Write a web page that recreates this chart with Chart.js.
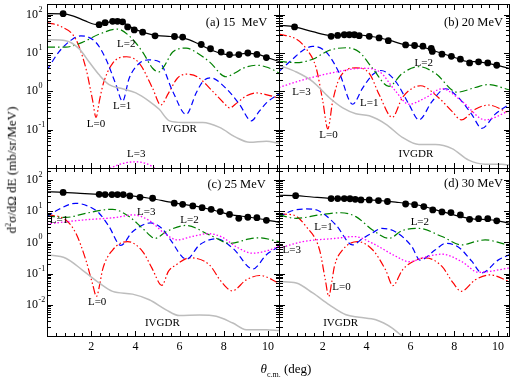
<!DOCTYPE html>
<html>
<head>
<meta charset="utf-8">
<script src="https://cdn.jsdelivr.net/npm/chart.js@4"></script>
<style>
  body { margin: 0; background: #fff; }
  #wrap { position: relative; width: 513px; height: 378px; overflow: hidden; font-family: "Liberation Serif", serif; }
  canvas { position: absolute; left: 0; top: 0; }
  .title { position: absolute; white-space: nowrap; font-size: 13px; color: #000; }
  .title sup, .title sub { font-size: 8px; }
</style>
</head>
<body>
<div id="wrap">
  <canvas id="pa" width="513" height="378"></canvas>
  <canvas id="pb" width="513" height="378"></canvas>
  <canvas id="pc" width="513" height="378"></canvas>
  <canvas id="pd" width="513" height="378"></canvas>
  <div class="title" id="ytitle" style="left:12px;top:170px;transform:translate(-50%,-50%) rotate(-90deg);">d<sup>2</sup>σ/dΩ dE (mb/sr/MeV)</div>
  <div class="title" id="xtitle" style="left:286px;top:370px;transform:translate(-50%,-50%);"><i>θ</i><sub>c.m.</sub> (deg)</div>
</div>
<script>
// angle (deg) vs cross section (mb/sr/MeV)
const xTicks = [2, 4, 6, 8, 10];
const yExpTop = [-1, 0, 1, 2];
const yExpBottom = [-2, -1, 0, 1, 2];

// (a) 15 MeV
const exp15 = [[0.73,106],[2.36,55],[2.63,62],[2.97,67],[3.19,67],[3.42,65],[3.65,48],[3.95,40],[4.33,35],[4.89,28],[5.77,27],[6.14,26],[6.98,16.7],[7.4,12.9],[7.88,10.6],[8.26,9.1],[8.68,9.1],[9.09,10],[9.5,9.2],[9.93,7.6]];
const sum15 = [[0,106],[0.7,105],[1.2,92],[1.7,70],[2.2,56],[2.6,61],[3.05,66],[3.4,63],[3.9,44],[4.4,34],[5.0,28.5],[5.6,27],[6.2,24.5],[6.8,18],[7.35,12.6],[7.85,9.8],[8.4,8.8],[9.0,9.8],[9.5,9.4],[10.0,7.5],[10.5,6]];
const l0_15 = [[0,62],[0.6,50],[1.3,23],[1.76,4],[2.06,0.6],[2.22,0.21],[2.38,0.6],[2.55,1.6],[2.97,5.4],[3.6,8],[4.18,5.4],[4.78,1.2],[5.15,0.44],[5.5,0.9],[5.9,2.2],[6.3,2.8],[6.8,2.4],[7.5,1.0],[8.0,0.5],[8.26,0.37],[8.6,0.5],[9.0,0.75],[9.45,0.91],[10.0,0.8],[10.5,0.66]];
const l1_15 = [[0,3.6],[0.54,10.7],[1.15,23],[1.53,28],[2.21,19],[2.66,7.1],[3.12,1.5],[3.42,0.55],[3.72,2.2],[4.18,5.4],[4.6,6.6],[5.08,5.9],[5.69,1.0],[6.3,0.25],[6.75,0.9],[7.05,1.8],[7.4,2.25],[8.1,1.2],[8.71,0.46],[9.25,0.17],[9.6,0.3],[9.93,0.5],[10.5,0.87]];
const l2_15 = [[0,14.3],[0.85,14.3],[1.6,19],[2.36,31],[3.19,42],[3.72,28],[4.33,10.6],[4.78,4],[5.05,3.2],[5.3,4.5],[5.69,10.6],[6.3,13.4],[6.8,10],[7.35,5.9],[8.1,2.4],[8.5,3],[8.87,4],[9.47,4.8],[10.0,4.2],[10.5,3.0]];
const l3_15 = [[0,0.001],[1,0.002],[2,0.005],[2.8,0.0095],[3.4,0.013],[4.0,0.0145],[4.5,0.013],[5.0,0.009],[6,0.004],[7,0.003],[8,0.003],[9,0.002],[10.5,0.002]];
const iv15 = [[0,22.4],[0.85,21],[1.45,13],[1.9,5.9],[2.36,2.7],[2.81,1.5],[3.42,1.17],[4.02,0.91],[4.63,0.55],[5.08,0.34],[5.54,0.17],[6.14,0.155],[7.05,0.155],[7.81,0.115],[8.56,0.063],[9.17,0.047],[9.93,0.05],[10.5,0.044]];

// (b) 20 MeV
const exp20 = [[0.71,48],[2.38,27.3],[2.68,28.8],[2.98,30],[3.21,30],[3.44,30],[3.66,28.4],[4.12,27.3],[4.57,24.7],[4.99,21],[5.78,16.3],[6.19,15.7],[6.57,15.1],[6.95,13.2],[7.0,11],[7.44,9.3],[7.87,8.2],[8.28,6.9],[8.7,5.5],[9.11,5.9],[9.53,5.5],[9.94,4.8]];
const sum20 = [[0,53],[0.71,48],[1.54,36],[2.38,28.5],[3.0,30],[3.5,30],[4.1,27.5],[4.57,25],[5.1,21],[5.63,17],[6.54,14.5],[7.0,11.8],[8.05,7.5],[8.6,6],[9.11,5.9],[9.6,5.3],[10.5,4]];
const l0_20 = [[0,31],[0.79,23],[1.24,13],[1.7,4],[2.0,0.55],[2.23,0.105],[2.45,0.55],[2.76,2.2],[3.51,4.1],[4.12,2.95],[4.57,0.83],[5.17,0.21],[5.63,0.68],[6.08,1.2],[6.46,1.4],[7.29,0.68],[7.9,0.3],[8.32,0.18],[8.96,0.34],[9.56,0.44],[10.5,0.27]];
const l1_20 = [[0,3.3],[0.64,7.1],[1.1,11.8],[1.54,14.9],[2.15,10.6],[2.76,2.95],[3.36,0.46],[3.81,1.2],[4.27,2.7],[4.65,3.5],[5.33,1.8],[5.93,0.46],[6.39,0.18],[6.99,0.55],[7.6,1.17],[8.2,0.68],[8.8,0.25],[9.26,0.108],[9.86,0.25],[10.5,0.46]];
const l2_20 = [[0,6.1],[0.79,5.6],[1.54,6.9],[2.3,11.8],[3.06,13.7],[3.66,10.6],[4.27,4],[5.02,1.35],[5.63,2.95],[6.39,4.4],[7.14,2.95],[8.13,0.95],[8.96,1.26],[9.56,1.5],[10.5,1.1]];
const l3_20 = [[0,1.26],[1.1,2],[2.61,3.2],[3.81,4],[4.57,3.3],[5.33,1],[5.93,0.46],[6.69,0.68],[7.44,1.17],[8.35,0.55],[9.41,0.18],[10.5,0.31]];
const iv20 = [[0,4.8],[0.79,3.2],[1.54,1.8],[2.3,0.68],[2.91,0.37],[3.51,0.26],[4.12,0.23],[4.87,0.14],[5.63,0.063],[6.39,0.041],[7.14,0.041],[7.9,0.032],[8.66,0.016],[9.41,0.0126],[10.17,0.0126],[10.5,0.012]];

// (c) 25 MeV
const exp25 = [[0.73,40],[2.36,34.8],[2.63,34],[2.94,34],[3.19,34],[3.45,34],[3.75,30.8],[4.21,27.9],[4.78,26],[5.76,18],[6.14,16.6],[6.6,14.7],[7.02,13],[7.43,11.5],[7.84,9.7],[8.26,7.9],[8.68,5.9],[9.09,6.4],[9.5,6.2],[9.93,5.1]];
const sum25 = [[0,42],[0.73,40],[1.5,37],[2.36,34.5],[3.5,32.5],[4.63,26],[5.69,18.8],[6.84,14],[7.6,10.5],[8.26,7.9],[9.17,6.4],[9.9,5.3],[10.5,4.4]];
const l0_25 = [[0,7.9],[0.85,5.2],[1.3,2],[1.76,0.27],[2.05,0.05],[2.24,0.0185],[2.4,0.05],[2.51,0.13],[2.97,0.57],[3.65,1.06],[4.33,0.51],[4.75,0.15],[5.2,0.042],[5.5,0.12],[5.84,0.19],[6.45,0.32],[7.35,0.19],[7.88,0.056],[8.38,0.028],[9.02,0.063],[9.63,0.087],[10.5,0.05]];
const l1_25 = [[0,6.7],[0.54,11.5],[1.3,17.9],[1.91,14],[2.36,8.6],[2.81,3.2],[3.34,0.8],[3.87,2.2],[4.7,4.2],[5.2,2.8],[5.54,1.35],[6.32,0.29],[6.9,0.83],[7.66,1.3],[8.41,0.65],[9.32,0.14],[9.93,0.4],[10.5,0.74]];
const l2_25 = [[0,7],[0.85,6.3],[1.76,8.6],[2.97,11.5],[3.72,6.7],[4.33,2.8],[4.9,1.35],[5.39,2.2],[6.3,3.5],[7.35,1.74],[8.3,0.93],[9.17,1.3],[9.6,1.4],[10.5,1.05]];
const l3_25 = [[0,3.9],[1.6,5.2],[3.12,6.3],[3.87,7.6],[4.63,5.0],[5.3,2.0],[5.9,1.2],[6.5,1.5],[7.3,1.9],[7.9,1.5],[8.6,0.7],[9.3,0.45],[10.0,0.55],[10.5,0.75]];
const iv25 = [[0,0.4],[0.85,0.31],[1.6,0.13],[2.36,0.05],[2.97,0.027],[3.87,0.022],[4.63,0.0145],[5.39,0.0069],[5.99,0.0045],[6.9,0.0047],[7.66,0.0043],[8.41,0.0026],[9.02,0.0016],[9.93,0.0016],[10.5,0.0015]];

// (d) 30 MeV
const exp30 = [[0.76,31.5],[2.38,25.3],[2.68,25.3],[2.98,25.3],[3.24,25],[3.48,24],[3.74,22.9],[4.12,22.9],[4.54,21.9],[4.95,20.4],[5.78,17],[6.19,16.2],[6.61,14],[7.02,11],[7.44,9.5],[7.85,9],[8.28,7.6],[8.7,5.5],[9.11,5.75],[9.53,5.75],[9.94,4.9]];
const sum30 = [[0,32.4],[0.76,31.5],[1.5,28.5],[2.3,25.7],[3.2,24.8],[4.12,22.9],[5.33,19.5],[6.39,15.5],[7.44,9.7],[8.66,5.9],[9.86,5.1],[10.5,4.1]];
const l0_30 = [[0,8.1],[0.64,7.6],[1.24,3.2],[1.85,0.58],[2.12,0.06],[2.27,0.0185],[2.42,0.06],[2.53,0.17],[2.91,0.58],[3.59,1.06],[4.27,0.58],[4.87,0.13],[5.2,0.041],[5.63,0.13],[6.24,0.27],[6.69,0.32],[7.44,0.17],[7.95,0.05],[8.32,0.027],[8.96,0.063],[9.64,0.091],[10.5,0.056]];
const l1_30 = [[0,6.7],[0.64,10.5],[1.24,11.8],[1.85,10],[2.6,3.6],[3.36,0.83],[3.8,1.3],[4.25,2],[4.7,2.8],[5.31,2.2],[6.06,0.74],[6.44,0.27],[7.14,0.58],[7.6,0.93],[8.2,0.7],[8.8,0.25],[9.26,0.105],[10.0,0.27],[10.5,0.4]];
const l2_30 = [[0,7.6],[0.79,5.9],[1.85,7.6],[2.83,8.9],[3.51,6.7],[4.27,2.5],[5.02,1.35],[5.63,2.4],[6.39,2.8],[7.44,1.54],[8.35,0.83],[8.96,1.06],[9.41,1.2],[10.5,0.8]];
const l3_30 = [[0,0.65],[1.1,1.06],[2.6,1.35],[3.44,1.54],[4.27,0.93],[5.33,0.36],[5.93,0.24],[6.69,0.34],[7.44,0.42],[8.35,0.24],[9.11,0.11],[10.5,0.15]];
const iv30 = [[0,0.056],[0.79,0.05],[1.54,0.024],[2.3,0.01],[3.06,0.0048],[3.66,0.004],[4.42,0.0033],[5.17,0.0018],[5.63,0.001],[6.2,0.0007],[7,0.0005],[8,0.0004],[9,0.0003],[10.5,0.0002]];

const FONT = '"Liberation Serif", "Times New Roman", serif';

function toPts(arr) {
  return arr.map(p => ({ x: p[0], y: p[1] }));
}

function curve(arr, color, dash, width) {
  return {
    data: toPts(arr),
    borderColor: color,
    borderDash: dash,
    borderWidth: width,
    pointRadius: 0,
    fill: false,
    cubicInterpolationMode: 'monotone'
  };
}

function dots(arr) {
  return {
    data: toPts(arr),
    showLine: false,
    pointRadius: 3.4,
    pointBackgroundColor: '#000',
    pointBorderColor: '#000',
    pointBorderWidth: 0
  };
}

// frame, inward ticks, tick labels and curve labels
function deco(p) {
  return {
    id: 'deco',
    afterDatasetsDraw(chart) {
      const ctx = chart.ctx, a = chart.chartArea;
      const xs = chart.scales.x, ys = chart.scales.y;
      ctx.save();
      ctx.strokeStyle = '#000';
      ctx.lineWidth = 1;
      ctx.strokeRect(a.left + 0.5, a.top + 0.5, a.right - a.left, a.bottom - a.top);
      ctx.beginPath();
      for (let i = 0; i <= 26; i++) {
        const px = Math.round(xs.getPixelForValue(i * 0.4)) + 0.5;
        const len = i % 5 === 0 ? 5 : 3;
        ctx.moveTo(px, a.bottom); ctx.lineTo(px, a.bottom - len);
        ctx.moveTo(px, a.top + 1); ctx.lineTo(px, a.top + 1 + len);
      }
      for (let e = -4; e <= 2; e++) {
        for (let m = 1; m <= 9; m++) {
          const v = m * Math.pow(10, e);
          if (v <= ys.min * 1.0001 || v > ys.max) continue;
          const py = Math.round(ys.getPixelForValue(v)) + 0.5;
          const len = m === 1 ? 5 : 3;
          ctx.moveTo(a.left + 1, py); ctx.lineTo(a.left + 1 + len, py);
          ctx.moveTo(a.right, py); ctx.lineTo(a.right - len, py);
        }
      }
      ctx.stroke();

      ctx.fillStyle = '#000';
      if (p.yExp) {
        ctx.textBaseline = 'middle';
        ctx.textAlign = 'left';
        p.yExp.forEach(e => {
          const py = ys.getPixelForValue(Math.pow(10, e));
          ctx.font = '12px ' + FONT;
          ctx.fillText('10', 26, py);
          const w = ctx.measureText('10').width;
          ctx.font = '8px ' + FONT;
          ctx.fillText(String(e), 26 + w + 0.5, py - 5);
        });
      }
      ctx.textAlign = 'center';
      ctx.textBaseline = 'middle';
      if (p.xLabels) {
        ctx.font = '12px ' + FONT;
        xTicks.forEach(v => ctx.fillText(String(v), xs.getPixelForValue(v), a.bottom + 11));
      }
      p.notes.forEach(n => {
        ctx.font = n[3] + 'px ' + FONT;
        ctx.fillText(n[0], xs.getPixelForValue(n[1]), ys.getPixelForValue(n[2]));
      });
      ctx.restore();
    }
  };
}

function makePanel(id, area, yMin, yMax, s, p) {
  new Chart(document.getElementById(id), {
    type: 'line',
    data: {
      datasets: [
        curve(s.iv, '#bdbdbd', [], 1.5),
        curve(s.l3, '#ff00ff', [1.5, 2], 1.3),
        curve(s.l2, '#008000', [8, 3, 1.5, 3], 1.2),
        curve(s.l1, '#0000ff', [6, 3.5], 1.2),
        curve(s.l0, '#ff0000', [8, 2.5, 1.5, 2.5, 1.5, 2.5], 1.2),
        curve(s.sum, '#000000', [], 1.2),
        dots(s.exp)
      ]
    },
    options: {
      responsive: false,
      animation: false,
      devicePixelRatio: 1,
      events: [],
      layout: { padding: { left: area[0], top: area[1], right: 513 - area[2], bottom: 378 - area[3] } },
      elements: { line: { capBezierPoints: false } },
      scales: {
        x: { type: 'linear', min: 0, max: 10.5, display: false },
        y: { type: 'logarithmic', min: yMin, max: yMax, display: false }
      },
      plugins: { legend: { display: false }, tooltip: { enabled: false } }
    },
    plugins: [deco(p)]
  });
}

makePanel('pa', [47, 0, 279, 168], 0.01, 190,
  { exp: exp15, sum: sum15, l0: l0_15, l1: l1_15, l2: l2_15, l3: l3_15, iv: iv15 },
  { xLabels: false, yExp: yExpTop, notes: [
    ['(a) 15  MeV', 8.58, 62, 12.5], ['L=2', 3.59, 17, 11], ['L=1', 3.4, 0.41, 11],
    ['L=0', 2.22, 0.143, 11], ['IVGDR', 5.99, 0.106, 11], ['L=3', 4.04, 0.023, 11]] });

makePanel('pb', [279, 0, 510, 168], 0.01, 190,
  { exp: exp20, sum: sum20, l0: l0_20, l1: l1_20, l2: l2_20, l3: l3_20, iv: iv20 },
  { xLabels: false, yExp: null, notes: [
    ['(b) 20 MeV', 8.88, 62, 12.5], ['L=2', 6.61, 5.5, 11], ['L=3', 1.03, 0.94, 11],
    ['L=1', 4.12, 0.49, 11], ['L=0', 2.26, 0.07, 11], ['IVGDR', 6.25, 0.023, 11]] });

makePanel('pc', [47, 168, 279, 336], 0.001, 242,
  { exp: exp25, sum: sum25, l0: l0_25, l1: l1_25, l2: l2_25, l3: l3_25, iv: iv25 },
  { xLabels: true, yExp: yExpBottom, notes: [
    ['(c) 25 MeV', 8.58, 69, 12.5], ['L=1', 0.54, 5.2, 11], ['L=3', 4.49, 9.5, 11],
    ['L=2', 6.45, 5.2, 11], ['L=0', 2.27, 0.0125, 11], ['IVGDR', 5.22, 0.0026, 11]] });

makePanel('pd', [279, 168, 510, 336], 0.001, 242,
  { exp: exp30, sum: sum30, l0: l0_30, l1: l1_30, l2: l2_30, l3: l3_30, iv: iv30 },
  { xLabels: true, yExp: null, notes: [
    ['(d) 30 MeV', 8.88, 74, 12.5], ['L=1', 2.03, 3.1, 11], ['L=2', 6.43, 4.5, 11],
    ['L=3', 0.58, 0.57, 11], ['L=0', 2.85, 0.038, 11], ['IVGDR', 2.81, 0.0025, 11]] });
</script>
</body>
</html>
